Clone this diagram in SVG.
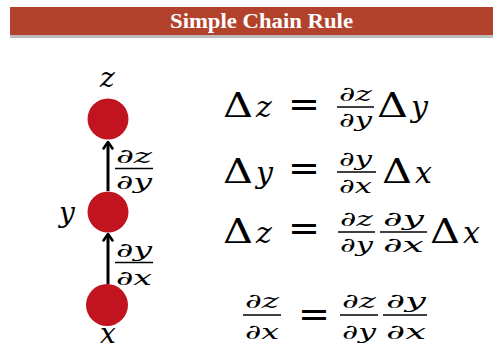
<svg xmlns="http://www.w3.org/2000/svg" width="498" height="349" viewBox="0 0 498 349">
<rect width="498" height="349" fill="#fff"/>
<g id="header">
<rect x="10" y="35" width="483" height="3" fill="#bbbbbb"/>
<rect x="10" y="7" width="483" height="28" fill="#b3422d"/>
<text x="261.5" y="28" text-anchor="middle" font-family="Liberation Serif, serif" font-weight="bold" font-size="21" fill="#fff" textLength="183" lengthAdjust="spacingAndGlyphs">Simple Chain Rule</text>
</g>
<g id="connectors" stroke="#000" fill="none">
<path stroke-width="3" d="M108 191 V143"/>
<path stroke-width="2.6" stroke-linecap="round" stroke-linejoin="round" d="M103.5 148.5 L108 142 L112.5 148.5"/>
<path stroke-width="3" d="M108 284 V235"/>
<path stroke-width="2.6" stroke-linecap="round" stroke-linejoin="round" d="M103.5 240.5 L108 234 L112.5 240.5"/>
<line stroke-width="1.4" x1="115" y1="168.5" x2="153" y2="168.5"/>
<line stroke-width="1.4" x1="115" y1="262.5" x2="153" y2="262.5"/>
</g>
<g id="label-dzdy">
<text x="116" y="163" font-family="DejaVu Serif, Liberation Serif, serif" font-style="italic" font-size="20" textLength="36" lengthAdjust="spacingAndGlyphs">∂z</text>
<text x="116" y="189" font-family="DejaVu Serif, Liberation Serif, serif" font-style="italic" font-size="20" textLength="36" lengthAdjust="spacingAndGlyphs">∂y</text>
</g>
<g id="label-dydx">
<text x="116" y="257" font-family="DejaVu Serif, Liberation Serif, serif" font-style="italic" font-size="20" textLength="36" lengthAdjust="spacingAndGlyphs">∂y</text>
<text x="116" y="285" font-family="DejaVu Serif, Liberation Serif, serif" font-style="italic" font-size="20" textLength="36" lengthAdjust="spacingAndGlyphs">∂x</text>
</g>
<g id="node-z">
<circle cx="108" cy="119" r="20.5" fill="#c1141f"/>
<text x="107.5" y="87" text-anchor="middle" font-family="DejaVu Serif, Liberation Serif, serif" font-style="italic" font-size="28">z</text>
</g>
<g id="node-y">
<circle cx="108" cy="212" r="20.5" fill="#c1141f"/>
<text x="67" y="222" text-anchor="middle" font-family="DejaVu Serif, Liberation Serif, serif" font-style="italic" font-size="28">y</text>
</g>
<g id="node-x">
<circle cx="107" cy="305" r="21" fill="#c1141f"/>
<text x="108" y="343" text-anchor="middle" font-family="DejaVu Serif, Liberation Serif, serif" font-style="italic" font-size="28">x</text>
</g>
<g id="eq1">
<text x="223" y="117" font-family="DejaVu Serif, Liberation Serif, serif" font-size="33" textLength="30" lengthAdjust="spacingAndGlyphs">Δ</text>
<text x="256" y="117" font-family="DejaVu Serif, Liberation Serif, serif" font-style="italic" font-size="30">z</text>
<text x="288" y="117" font-family="DejaVu Serif, Liberation Serif, serif" font-size="38" textLength="32" lengthAdjust="spacingAndGlyphs">=</text>
<text x="339" y="101" font-family="DejaVu Serif, Liberation Serif, serif" font-style="italic" font-size="21" textLength="33" lengthAdjust="spacingAndGlyphs">∂z</text>
<line x1="337" y1="107" x2="374" y2="107" stroke="#000" stroke-width="1.4"/>
<text x="339" y="127" font-family="DejaVu Serif, Liberation Serif, serif" font-style="italic" font-size="21" textLength="33" lengthAdjust="spacingAndGlyphs">∂y</text>
<text x="377" y="117" font-family="DejaVu Serif, Liberation Serif, serif" font-size="33" textLength="31" lengthAdjust="spacingAndGlyphs">Δ</text>
<text x="411" y="117" font-family="DejaVu Serif, Liberation Serif, serif" font-style="italic" font-size="30">y</text>
</g>
<g id="eq2">
<text x="223" y="183" font-family="DejaVu Serif, Liberation Serif, serif" font-size="33" textLength="30" lengthAdjust="spacingAndGlyphs">Δ</text>
<text x="256" y="183" font-family="DejaVu Serif, Liberation Serif, serif" font-style="italic" font-size="30">y</text>
<text x="288" y="181" font-family="DejaVu Serif, Liberation Serif, serif" font-size="38" textLength="32" lengthAdjust="spacingAndGlyphs">=</text>
<text x="339" y="166" font-family="DejaVu Serif, Liberation Serif, serif" font-style="italic" font-size="21" textLength="33" lengthAdjust="spacingAndGlyphs">∂y</text>
<line x1="337" y1="172" x2="376" y2="172" stroke="#000" stroke-width="1.4"/>
<text x="339" y="193" font-family="DejaVu Serif, Liberation Serif, serif" font-style="italic" font-size="21" textLength="33" lengthAdjust="spacingAndGlyphs">∂x</text>
<text x="382" y="183" font-family="DejaVu Serif, Liberation Serif, serif" font-size="33" textLength="30" lengthAdjust="spacingAndGlyphs">Δ</text>
<text x="415" y="183" font-family="DejaVu Serif, Liberation Serif, serif" font-style="italic" font-size="30">x</text>
</g>
<g id="eq3">
<text x="223" y="243" font-family="DejaVu Serif, Liberation Serif, serif" font-size="33" textLength="30" lengthAdjust="spacingAndGlyphs">Δ</text>
<text x="256" y="243" font-family="DejaVu Serif, Liberation Serif, serif" font-style="italic" font-size="30">z</text>
<text x="288" y="241" font-family="DejaVu Serif, Liberation Serif, serif" font-size="38" textLength="32" lengthAdjust="spacingAndGlyphs">=</text>
<text x="340" y="226" font-family="DejaVu Serif, Liberation Serif, serif" font-style="italic" font-size="21" textLength="33" lengthAdjust="spacingAndGlyphs">∂z</text>
<line x1="338" y1="232" x2="375" y2="232" stroke="#000" stroke-width="1.4"/>
<text x="340" y="252" font-family="DejaVu Serif, Liberation Serif, serif" font-style="italic" font-size="21" textLength="33" lengthAdjust="spacingAndGlyphs">∂y</text>
<text x="383" y="226" font-family="DejaVu Serif, Liberation Serif, serif" font-style="italic" font-size="21" textLength="41" lengthAdjust="spacingAndGlyphs">∂y</text>
<line x1="380" y1="232" x2="427" y2="232" stroke="#000" stroke-width="1.4"/>
<text x="383" y="252" font-family="DejaVu Serif, Liberation Serif, serif" font-style="italic" font-size="21" textLength="41" lengthAdjust="spacingAndGlyphs">∂x</text>
<text x="430" y="243" font-family="DejaVu Serif, Liberation Serif, serif" font-size="33" textLength="30" lengthAdjust="spacingAndGlyphs">Δ</text>
<text x="463" y="243" font-family="DejaVu Serif, Liberation Serif, serif" font-style="italic" font-size="30">x</text>
</g>
<g id="eq4">
<text x="245" y="308" font-family="DejaVu Serif, Liberation Serif, serif" font-style="italic" font-size="21" textLength="34" lengthAdjust="spacingAndGlyphs">∂z</text>
<line x1="243" y1="315" x2="281" y2="315" stroke="#000" stroke-width="1.4"/>
<text x="245" y="339" font-family="DejaVu Serif, Liberation Serif, serif" font-style="italic" font-size="21" textLength="34" lengthAdjust="spacingAndGlyphs">∂x</text>
<text x="298" y="327" font-family="DejaVu Serif, Liberation Serif, serif" font-size="38" textLength="32" lengthAdjust="spacingAndGlyphs">=</text>
<text x="342" y="308" font-family="DejaVu Serif, Liberation Serif, serif" font-style="italic" font-size="21" textLength="34" lengthAdjust="spacingAndGlyphs">∂z</text>
<line x1="340" y1="315" x2="378" y2="315" stroke="#000" stroke-width="1.4"/>
<text x="342" y="339" font-family="DejaVu Serif, Liberation Serif, serif" font-style="italic" font-size="21" textLength="34" lengthAdjust="spacingAndGlyphs">∂y</text>
<text x="386" y="308" font-family="DejaVu Serif, Liberation Serif, serif" font-style="italic" font-size="21" textLength="40" lengthAdjust="spacingAndGlyphs">∂y</text>
<line x1="383" y1="315" x2="427" y2="315" stroke="#000" stroke-width="1.4"/>
<text x="386" y="339" font-family="DejaVu Serif, Liberation Serif, serif" font-style="italic" font-size="21" textLength="40" lengthAdjust="spacingAndGlyphs">∂x</text>
</g>
</svg>
